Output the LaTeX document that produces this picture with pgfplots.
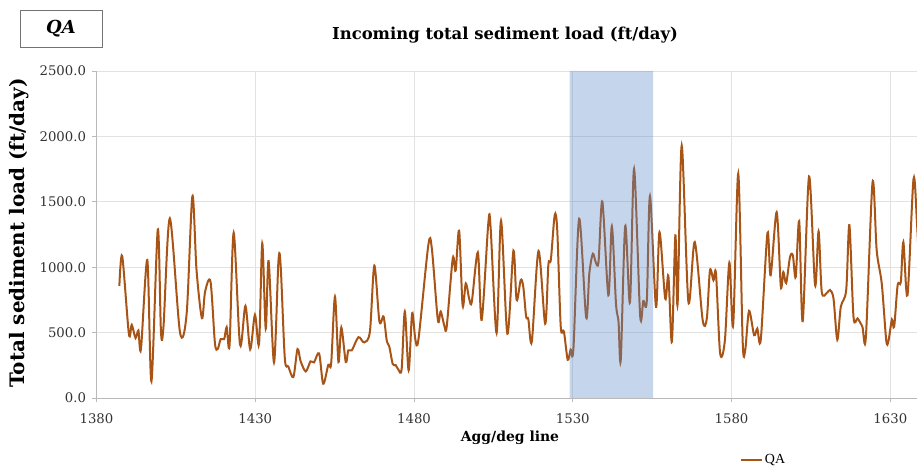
\documentclass[border=0pt]{standalone}
\usepackage{pgfplots}
\pgfplotsset{compat=1.18}
\usepackage{fontspec}
\setmainfont{DejaVu Serif}
\newfontfamily\legendfont{Liberation Serif}
\definecolor{qaline}{RGB}{168,84,22}
\definecolor{bandc}{RGB}{89,138,201}
\definecolor{gridc}{RGB}{226,226,226}
\definecolor{axc}{RGB}{185,185,185}

\pgfplotstableread{
x y
1387.2 857
1388.1 1085
1390.2 490
1391.1 559
1392.3 458
1393.2 516
1394.0 374
1396.0 1055
1397.3 127
1399.3 1289
1400.3 508
1401.1 547
1403.1 1373
1406.3 501
1408.4 648
1410.2 1543
1411.5 979
1413.2 610
1414.2 813
1415.9 890
1417.3 419
1418.2 376
1419.1 450
1420.2 450
1421.0 541
1421.9 402
1423.2 1263
1425.2 407
1426.9 704
1428.4 372
1429.9 636
1431.2 414
1432.2 1182
1433.3 529
1434.2 1047
1435.9 272
1437.3 1047
1438.0 1009
1439.3 305
1440.4 241
1442.0 160
1443.3 374
1444.3 280
1445.9 203
1447.4 280
1448.5 272
1450.1 341
1451.4 109
1453.0 254
1453.9 264
1455.1 775
1456.2 275
1457.1 539
1458.5 275
1459.3 364
1460.4 364
1462.5 465
1464.3 425
1466.1 508
1467.5 1012
1469.1 585
1470.4 623
1471.4 440
1472.2 394
1473.3 259
1474.2 252
1475.1 216
1476.1 221
1477.1 661
1478.3 211
1479.4 648
1480.4 450
1481.4 450
1484.5 1169
1485.6 1144
1487.5 597
1488.4 661
1489.6 547
1490.3 547
1492.2 1068
1493.1 974
1494.2 1279
1495.3 707
1496.3 877
1497.4 755
1498.2 737
1500.1 1113
1501.3 597
1503.4 1340
1504.1 1309
1506.0 496
1507.4 1355
1509.4 491
1511.3 1126
1512.3 750
1513.6 902
1514.4 852
1515.3 623
1516.0 602
1517.1 432
1519.2 1124
1521.3 567
1522.3 1017
1523.1 1060
1524.3 1398
1525.1 1284
1526.2 547
1527.2 508
1528.4 292
1529.3 370
1530.2 379
1532.0 1370
1534.2 615
1535.2 951
1536.3 1103
1537.2 1040
1538.1 1040
1539.3 1502
1541.2 785
1542.3 1314
1543.6 722
1544.4 582
1545.1 290
1546.5 1314
1548.0 730
1549.3 1751
1551.2 633
1552.2 742
1553.3 742
1554.3 1543
1556.2 697
1557.3 1268
1559.1 760
1560.1 933
1561.2 430
1562.3 1243
1563.0 717
1564.3 1929
1566.4 735
1568.4 1192
1570.9 595
1572.2 608
1573.2 976
1574.3 900
1575.1 951
1576.4 341
1577.9 442
1579.3 1035
1580.5 557
1582.1 1715
1583.5 430
1584.3 366
1585.5 666
1587.1 480
1588.1 531
1589.2 447
1591.3 1261
1592.3 938
1594.2 1421
1595.5 854
1596.3 963
1597.2 879
1598.4 1078
1599.3 1090
1600.2 925
1601.3 1352
1602.4 587
1604.4 1693
1606.3 862
1607.4 1274
1608.4 811
1610.0 803
1611.0 826
1612.1 760
1613.3 445
1614.4 697
1616.1 826
1617.1 1322
1618.4 620
1619.7 608
1621.2 544
1622.3 468
1624.4 1650
1625.7 1129
1627.3 874
1628.7 442
1629.4 435
1630.5 600
1631.2 544
1632.3 862
1633.3 887
1634.1 1192
1635.4 785
1637.3 1675
1638.4 1335
1639.5 800
}\qadata

\begin{document}
\begin{tikzpicture}[x=1bp,y=1bp]
\begin{axis}[
  at={(0,0)}, anchor=south west,
  scale only axis, width=820.5bp, height=327bp,
  xmin=1380, xmax=1638.4, ymin=0, ymax=2500,
  xtick={1380,1430,...,1630}, ytick={0,500,...,2500},
  grid=major, major grid style={gridc, line width=0.7bp},
  axis lines*=left, axis line style={axc, line width=0.9bp},
  tick style={axc, line width=0.8bp}, major tick length=4bp, tick align=outside,
  /pgf/number format/assume math mode=true,
  y tick label style={/pgf/number format/.cd, fixed, fixed zerofill, precision=1, 1000 sep={}, /tikz/xshift=-3bp},
  x tick label style={/pgf/number format/.cd, 1000 sep={}, /tikz/yshift=-8bp},
  ticklabel style={font=\fontsize{13.3}{15}\selectfont, text=black!80},
  legend style={at={(rel axis cs:0.784,-0.19)}, anchor=west, draw=none, fill=none,
    inner sep=0pt, font=\legendfont\fontsize{14}{16}\selectfont},
  legend image code/.code={\draw[qaline, line width=2bp] (0bp,0bp) -- (21bp,0bp);},
]
\addplot[qaline, line width=2bp, smooth, tension=0.5] table[x=x, y=y] {\qadata};
\addlegendentry{QA}
\addplot[draw=none, fill=bandc, fill opacity=0.35, forget plot]
  coordinates {(1529,0) (1529,2500) (1555.3,2500) (1555.3,0)} \closedcycle;
\end{axis}

% chart heading, axis titles and the series tag
\node[font=\bfseries\fontsize{16.5}{18}\selectfont] at (408.5,363) {Incoming total sediment load (ft/day)};
\node[font=\bfseries\fontsize{20}{22}\selectfont, rotate=90] at (-77,165) {Total sediment load (ft/day)};
\node[font=\bfseries\fontsize{14}{16}\selectfont] at (413.5,-40) {Agg/deg line};
\draw[black!55, line width=0.8bp] (-76.5,351) rectangle (5.5,388);
\node[font=\bfseries\itshape\fontsize{18}{20}\selectfont] at (-35.5,369.5) {QA};

\pgfresetboundingbox
\useasboundingbox (-96.5,-68) rectangle (820.5,398);
\end{tikzpicture}
\end{document}
